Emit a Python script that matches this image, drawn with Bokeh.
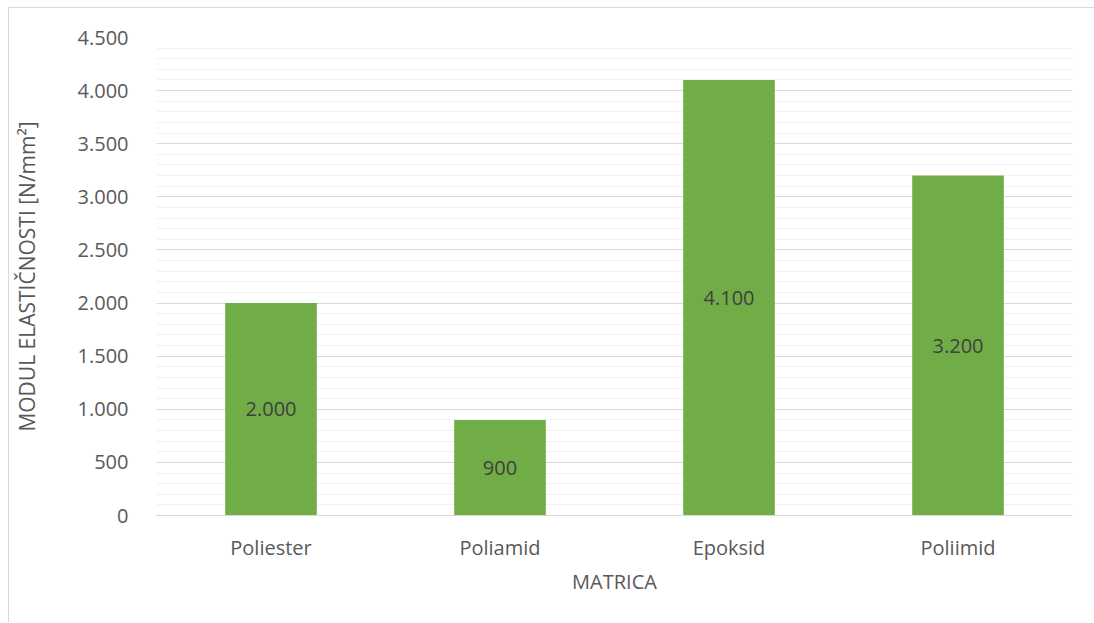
from bokeh.plotting import figure
from bokeh.models import ColumnDataSource, FactorRange, Range1d, SingleIntervalTicker
from bokeh.core.properties import value
from bokeh.embed import file_html
from bokeh.resources import INLINE

categories = ["Poliester", "Poliamid", "Epoksid", "Poliimid"]
values = [2000, 900, 4100, 3200]
y_ticks = [0, 500, 1000, 1500, 2000, 2500, 3000, 3500, 4000, 4500]
y_tick_labels = ["0", "500", "1.000", "1.500", "2.000", "2.500", "3.000", "3.500", "4.000", "4.500"]
x_title = "MATRICA"
y_title = "MODUL ELASTIČNOSTI [N/mm²]"

labels = [f"{v:,}".replace(",", ".") for v in values]
mids = [v / 2 for v in values]
src = ColumnDataSource(dict(cat=categories, val=values, lab=labels, mid=mids))

FONT = "Open Sans"
FS = "20px"

p = figure(width=1086, height=615, output_backend="svg", toolbar_location=None,
           x_range=FactorRange(*categories, range_padding=0),
           y_range=Range1d(0, 4500),
           min_border_left=143, min_border_right=23, min_border_top=29, min_border_bottom=108)
p.outline_line_color = None
p.styles = {"border-top": "1px solid #d9d9d9", "border-left": "1px solid #d9d9d9",
            "margin-left": "8px", "margin-top": "7px"}

p.vbar(x="cat", top="val", width=0.4, source=src, fill_color="#70AD47", line_color=None)
p.text(x="cat", y="mid", text="lab", source=src, text_align="center", text_baseline="middle",
       text_font=value(FONT), text_font_size=FS, text_color="#404040")

p.yaxis.ticker = SingleIntervalTicker(interval=500, num_minor_ticks=5)
p.yaxis.major_label_overrides = {t: l for t, l in zip(y_ticks, y_tick_labels)}
p.ygrid.ticker = p.yaxis.ticker
p.ygrid.grid_line_color = "#d9d9d9"
p.ygrid.minor_grid_line_color = "#f2f2f2"
p.ygrid.grid_line_width = 1
p.xgrid.grid_line_color = None

for ax in (p.xaxis, p.yaxis):
    ax.major_tick_line_color = None
    ax.minor_tick_line_color = None
    ax.major_label_text_font = FONT
    ax.major_label_text_font_size = FS
    ax.major_label_text_color = "#595959"
    ax.axis_label_text_font = FONT
    ax.axis_label_text_font_size = FS
    ax.axis_label_text_color = "#595959"
    ax.axis_label_text_font_style = "normal"

p.yaxis.axis_label_text_font_size = "21px"
p.yaxis.axis_line_color = None
p.xaxis.axis_line_color = "#d9d9d9"
p.xaxis.axis_line_width = 1
p.yaxis.major_label_standoff = 22
p.xaxis.major_label_standoff = 12
p.yaxis.axis_label = y_title
p.xaxis.axis_label = x_title
p.yaxis.axis_label_standoff = 34
p.xaxis.axis_label_standoff = 4

open("out.html", "w").write(file_html(p, INLINE))
